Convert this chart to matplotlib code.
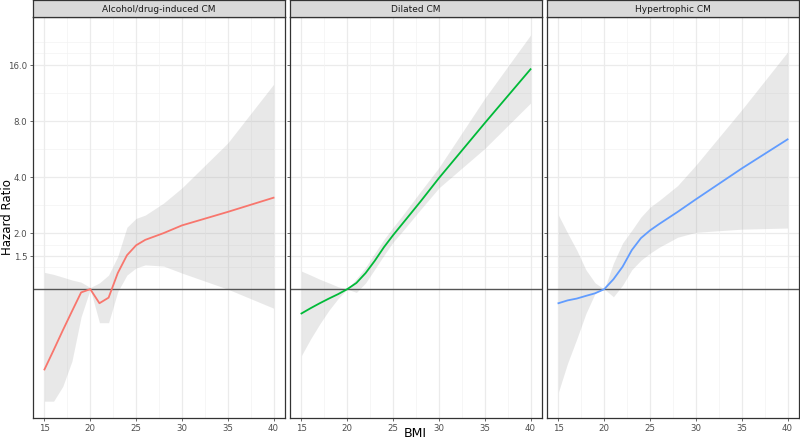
import matplotlib
matplotlib.use("Agg")
import matplotlib.pyplot as plt
import numpy as np

# BMI grid shared by all panels
bmi = [15, 16, 17, 18, 19, 20, 21, 22, 23, 24, 25, 26, 28, 30, 35, 40]

panels = ["Alcohol/drug-induced CM", "Dilated CM", "Hypertrophic CM"]
colors = ["#F8766D", "#00BA38", "#619CFF"]

alc_hr = [0.37, 0.47, 0.60, 0.76, 0.96, 1.0, 0.84, 0.90, 1.22, 1.52, 1.72, 1.84, 2.0, 2.2, 2.6, 3.1]
alc_lo = [0.25, 0.25, 0.30, 0.41, 0.71, 1.0, 0.66, 0.66, 0.97, 1.19, 1.30, 1.35, 1.33, 1.22, 1.0, 0.79]
alc_hi = [1.23, 1.20, 1.16, 1.12, 1.09, 1.02, 1.08, 1.19, 1.5, 2.15, 2.4, 2.5, 2.9, 3.5, 6.1, 12.6]

dil_hr = [0.74, 0.79, 0.84, 0.89, 0.94, 1.0, 1.08, 1.22, 1.42, 1.68, 1.95, 2.24, 2.96, 3.95, 7.8, 15.2]
dil_lo = [0.44, 0.54, 0.65, 0.77, 0.89, 1.0, 0.96, 1.08, 1.28, 1.52, 1.79, 2.04, 2.68, 3.5, 5.7, 10.0]
dil_hi = [1.25, 1.19, 1.13, 1.08, 1.03, 1.0, 1.14, 1.31, 1.56, 1.85, 2.15, 2.48, 3.35, 4.5, 10.6, 23.2]

hyp_hr = [0.84, 0.87, 0.89, 0.92, 0.95, 1.0, 1.13, 1.32, 1.62, 1.88, 2.07, 2.24, 2.6, 3.04, 4.45, 6.38]
hyp_lo = [0.28, 0.40, 0.54, 0.74, 0.95, 1.0, 0.91, 1.05, 1.27, 1.43, 1.56, 1.68, 1.9, 2.02, 2.1, 2.13]
hyp_hi = [2.5, 2.0, 1.62, 1.27, 1.08, 1.0, 1.38, 1.77, 2.07, 2.44, 2.76, 3.0, 3.6, 4.64, 9.2, 18.8]

y_major = [1.5, 2.0, 4.0, 8.0, 16.0]
y_minor = [1.31, 1.73, 2.83, 5.66, 11.3, 18.6, 21.3]
x_major = [15, 20, 25, 30, 35, 40]
x_minor = [17.5, 22.5, 27.5, 32.5, 37.5]

series = [(alc_hr, alc_lo, alc_hi), (dil_hr, dil_lo, dil_hi), (hyp_hr, hyp_lo, hyp_hi)]

W, H = 800, 443
fig = plt.figure(figsize=(W / 100, H / 100), dpi=100)

lefts = [33, 290, 547]
pw = 252
top, bottom = 17, 418
strip_h = 17

for i, (name, (hr, lo, hi)) in enumerate(zip(panels, series)):
    ax = fig.add_axes([lefts[i] / W, (H - bottom) / H, pw / W, (bottom - top) / H])
    ax.set_yscale("log", base=2)
    ax.set_xlim(13.75, 41.25)
    ax.set_ylim(0.203, 29.0)

    for y in y_major:
        ax.axhline(y, color="#EBEBEB", lw=0.9, zorder=0)
    for y in y_minor:
        ax.axhline(y, color="#F3F3F3", lw=0.5, zorder=0)
    for x in x_major:
        ax.axvline(x, color="#EBEBEB", lw=0.9, zorder=0)
    for x in x_minor:
        ax.axvline(x, color="#F3F3F3", lw=0.5, zorder=0)

    ax.fill_between(bmi, lo, hi, color="#999999", alpha=0.22, lw=0, zorder=1)
    ax.plot(bmi, hr, color=colors[i], lw=1.3, zorder=3)
    ax.axhline(1.0, color="#555555", lw=1.0, zorder=2)

    ax.set_xticks(x_major)
    ax.set_xticklabels([str(x) for x in x_major])
    ax.yaxis.set_minor_locator(matplotlib.ticker.NullLocator())
    ax.set_yticks(y_major)
    if i == 0:
        ax.set_yticklabels([f"{y:.1f}" for y in y_major])
    else:
        ax.set_yticklabels([])
        ax.tick_params(axis="y", length=0)
    ax.tick_params(axis="both", labelsize=6.2, colors="#4D4D4D", length=2.5, width=0.6, pad=1.5)
    for s in ax.spines.values():
        s.set_color("#333333")
        s.set_linewidth(0.9)

    sax = fig.add_axes([lefts[i] / W, (H - top) / H, pw / W, strip_h / H])
    sax.set_facecolor("#D9D9D9")
    sax.set_xticks([])
    sax.set_yticks([])
    for s in sax.spines.values():
        s.set_color("#333333")
        s.set_linewidth(0.9)
    sax.text(0.5, 0.45, name, ha="center", va="center", fontsize=6.5, color="#1A1A1A",
             transform=sax.transAxes)

fig.text((33 + 798) / 2 / W, 3 / H, "BMI", ha="center", va="bottom", fontsize=9)
fig.text(1 / W, (H - 217) / H, "Hazard Ratio", rotation=90, ha="left", va="center", fontsize=8.5)

fig.savefig("out.png", dpi=100)
